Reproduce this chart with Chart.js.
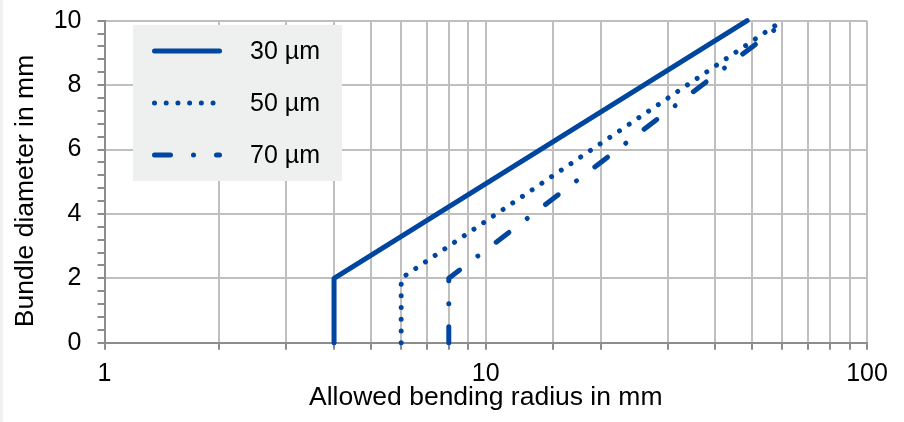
<!DOCTYPE html>
<html>
<head>
<meta charset="utf-8">
<script src="https://cdn.jsdelivr.net/npm/chart.js@4"></script>
<style>
  html, body { margin: 0; padding: 0; background: #f0f1f1; }
  .wrap { position: absolute; left: 3px; top: 0; width: 901px; height: 422px; background: #fff; }
  canvas { display: block; }
</style>
</head>
<body>
<div class="wrap"><canvas id="c" width="901" height="422"></canvas></div>
<script>
// Bundle diameter vs allowed bending radius, one series per fibre diameter
const seriesLabels = ['30 µm', '50 µm', '70 µm'];
const radius30 = [4, 4, 48.5];
const diam30 = [0, 2, 10];
const radius50 = [6, 6, 60];
const diam50 = [0, 2, 10];
const radius70 = [8, 8, 61.5];
const diam70 = [0, 2, 10];
const xTickLabels = [1, 10, 100];
const yTickLabels = [0, 2, 4, 6, 8, 10];
const xTitle = 'Allowed bending radius in mm';
const yTitle = 'Bundle diameter in mm';

const BLUE = '#00469f';
const FONT = '"Liberation Sans", Arial, sans-serif';

const toPoints = (xs, ys) => xs.map((x, i) => ({ x, y: ys[i] }));

const dashes = [[], [0.01, 11.7], [16, 23, 0.01, 23]];
const datasets = [
    toPoints(radius30, diam30),
    toPoints(radius50, diam50),
    toPoints(radius70, diam70)
].map((data, i) => ({
    label: seriesLabels[i],
    data,
    showLine: true,
    borderColor: BLUE,
    backgroundColor: BLUE,
    borderWidth: 5,
    borderDash: dashes[i],
    borderCapStyle: 'round',
    borderJoinStyle: 'round',
    pointRadius: 0,
    tension: 0,
    clip: 8
}));

// Legend box inside the plot + the y title (Excel centres it a bit lower than Chart.js would)
const insideLegend = {
    id: 'insideLegend',
    afterDraw(chart) {
        const ctx = chart.ctx;
        const bx = 130, by = 25, bw = 209, bh = 156;
        ctx.save();
        ctx.fillStyle = '#eef0f0';
        ctx.fillRect(bx, by, bw, bh);
        chart.data.datasets.forEach((ds, i) => {
            const y = by + 26 + i * 52;
            ctx.strokeStyle = ds.borderColor;
            ctx.lineWidth = ds.borderWidth;
            ctx.lineCap = 'round';
            ctx.setLineDash(ds.borderDash);
            ctx.beginPath();
            ctx.moveTo(bx + 21.5, y);
            ctx.lineTo(bx + 86.5, y);
            ctx.stroke();
            ctx.setLineDash([]);
            ctx.fillStyle = '#000';
            ctx.font = '25px ' + FONT;
            ctx.textBaseline = 'middle';
            ctx.textAlign = 'left';
            ctx.fillText(ds.label, bx + 117, y + 1);
        });

        ctx.translate(23, 191);
        ctx.rotate(-Math.PI / 2);
        ctx.fillStyle = '#000';
        ctx.font = '26.5px ' + FONT;
        ctx.textAlign = 'center';
        ctx.textBaseline = 'middle';
        ctx.fillText(yTitle, 0, 0);
        ctx.restore();
    }
};

const isMajorY = v => yTickLabels.some(t => Math.abs(t - v) < 1e-6);

new Chart(document.getElementById('c').getContext('2d'), {
    type: 'scatter',
    data: { datasets },
    plugins: [insideLegend],
    options: {
        responsive: false, animation: false,
        layout: { padding: { left: 0, right: 37, top: 20.7, bottom: 8 } },
        plugins: { legend: { display: false }, tooltip: { enabled: false } },
        scales: {
            x: {
                type: 'logarithmic', min: 1, max: 100,
                afterFit: s => { s.height = 71.3; },
                ticks: {
                    color: '#000', font: { size: 25, family: FONT }, padding: 9,
                    autoSkip: false, maxRotation: 0,
                    callback: v => xTickLabels.includes(v) ? String(v) : ''
                },
                grid: { color: '#bfbfbf', lineWidth: 2, tickColor: '#8c8c8c', tickLength: 7 },
                border: { color: '#8c8c8c', width: 2 },
                title: {
                    display: true, text: xTitle,
                    color: '#000', font: { size: 26.5, family: FONT }, padding: { top: 0, bottom: 0 }
                }
            },
            y: {
                min: 0, max: 10,
                // fixed width, and no extra top/bottom room for the end labels
                afterFit: s => { s.width = 101.5; s.paddingTop = 0; s.paddingBottom = 0; },
                ticks: {
                    stepSize: 0.4, color: '#000', font: { size: 25, family: FONT }, padding: 16,
                    autoSkip: false,
                    callback: v => isMajorY(v) ? String(Math.round(v)) : ''
                },
                grid: {
                    color: c => (c.tick && isMajorY(c.tick.value)) ? '#bfbfbf' : 'rgba(0,0,0,0)',
                    lineWidth: 2, tickColor: '#8c8c8c', tickLength: 7
                },
                border: { color: '#8c8c8c', width: 2 }
            }
        }
    }
});
</script>
</body>
</html>
